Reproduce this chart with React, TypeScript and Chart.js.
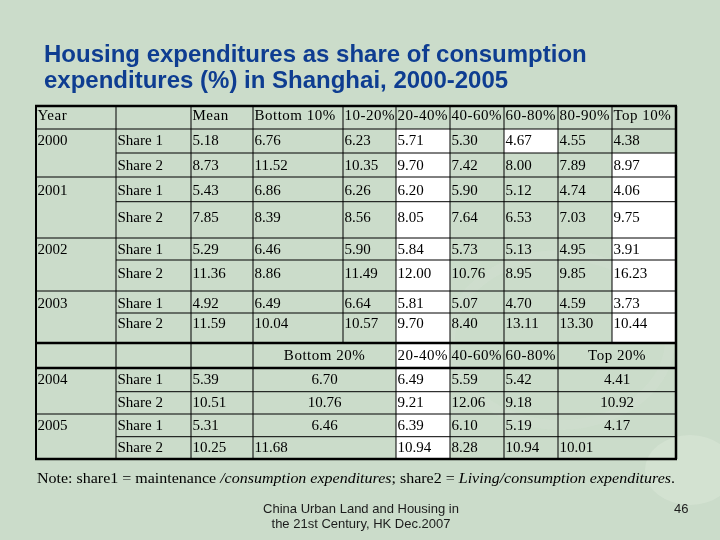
import React, { useEffect, useRef } from "react";
import { Chart, registerables } from "chart.js";

Chart.register(...registerables);

// ---------- text content ----------
const titleLines = [
  "Housing expenditures as share of consumption",
  "expenditures (%) in Shanghai, 2000-2005",
];
const headerTop = ["Year", "", "Mean", "Bottom 10%", "10-20%", "20-40%", "40-60%", "60-80%", "80-90%", "Top 10%"];
const headerBottom = ["Bottom 20%", "20-40%", "40-60%", "60-80%", "Top 20%"];
const yearsTop = ["2000", "2001", "2002", "2003"];
const yearsBottom = ["2004", "2005"];
const shareLabels = ["Share 1", "Share 2"];

// ---------- values, 2000-2003 (Share 1, Share 2 per year) ----------
const meanTop = [5.18, 8.73, 5.43, 7.85, 5.29, 11.36, 4.92, 11.59];
const bottom10 = [6.76, 11.52, 6.86, 8.39, 6.46, 8.86, 6.49, 10.04];
const p10to20 = [6.23, 10.35, 6.26, 8.56, 5.9, 11.49, 6.64, 10.57];
const p20to40 = [5.71, 9.7, 6.2, 8.05, 5.84, 12.0, 5.81, 9.7];
const p40to60 = [5.3, 7.42, 5.9, 7.64, 5.73, 10.76, 5.07, 8.4];
const p60to80 = [4.67, 8.0, 5.12, 6.53, 5.13, 8.95, 4.7, 13.11];
const p80to90 = [4.55, 7.89, 4.74, 7.03, 4.95, 9.85, 4.59, 13.3];
const top10 = [4.38, 8.97, 4.06, 9.75, 3.91, 16.23, 3.73, 10.44];

// ---------- values, 2004-2005 ----------
const meanBottom = [5.39, 10.51, 5.31, 10.25];
const bottom20 = [6.7, 10.76, 6.46, 11.68];
const q20to40 = [6.49, 9.21, 6.39, 10.94];
const q40to60 = [5.59, 12.06, 6.1, 8.28];
const q60to80 = [5.42, 9.18, 5.19, 10.94];
const top20 = [4.41, 10.92, 4.17, 10.01];

const noteParts: [string, boolean][] = [
  ["Note: share1 = maintenance ", false],
  ["/consumption expenditures", true],
  ["; share2 = ", false],
  ["Living/consumption expenditures", true],
  [".", false],
];
const footerLines = ["China Urban Land and Housing in", "the 21st Century, HK Dec.2007"];
const pageNumber = "46";

// ---------- layout (pixel units of the 720x540 scale) ----------
const COLS = [36, 116, 191, 253, 343, 396, 450, 504, 558, 612, 676];
const TOP_ROWS = [106, 129, 153, 177, 201.7, 238, 260, 291, 313, 343];
const TOP_BASE = [120, 145, 170, 195, 221.5, 254, 277.5, 308, 328];
const BOT_ROWS = [343, 368, 391.7, 414, 436.7, 459];
const BOT_BASE = [359.5, 383.5, 406.5, 430, 451.5];
const PAD = 1.5;

const BG = "#cbdcca";
const TITLE_COLOR = "#0e3d91";
const SERIF = "'Liberation Serif', 'Times New Roman', serif";
const SANS = "'Liberation Sans', Arial, sans-serif";

type Cell = { x: number; y: number; text: string; align: "left" | "center"; header?: boolean };

function fmt(v: number) {
  return v.toFixed(2);
}

function buildCells(): Cell[] {
  const cells: Cell[] = [];
  const left = (c: number, r: number, t: string, base: number[], header = false) =>
    cells.push({ x: COLS[c] + PAD, y: base[r], text: t, align: "left", header });
  const center = (c0: number, c1: number, r: number, t: string, base: number[], header = false) =>
    cells.push({ x: (COLS[c0] + COLS[c1]) / 2, y: base[r], text: t, align: "center", header });

  headerTop.forEach((h, i) => h && left(i, 0, h, TOP_BASE, true));
  const topCols = [meanTop, bottom10, p10to20, p20to40, p40to60, p60to80, p80to90, top10];
  for (let r = 0; r < 8; r++) {
    if (r % 2 === 0) left(0, r + 1, yearsTop[r / 2], TOP_BASE);
    left(1, r + 1, shareLabels[r % 2], TOP_BASE);
    topCols.forEach((arr, j) => left(j + 2, r + 1, fmt(arr[r]), TOP_BASE));
  }

  center(3, 5, 0, headerBottom[0], BOT_BASE, true);
  left(5, 0, headerBottom[1], BOT_BASE, true);
  left(6, 0, headerBottom[2], BOT_BASE, true);
  left(7, 0, headerBottom[3], BOT_BASE, true);
  center(8, 10, 0, headerBottom[4], BOT_BASE, true);
  for (let r = 0; r < 4; r++) {
    const rr = r + 1;
    if (r % 2 === 0) left(0, rr, yearsBottom[r / 2], BOT_BASE);
    left(1, rr, shareLabels[r % 2], BOT_BASE);
    left(2, rr, fmt(meanBottom[r]), BOT_BASE);
    if (r < 3) center(3, 5, rr, fmt(bottom20[r]), BOT_BASE);
    else left(3, rr, fmt(bottom20[r]), BOT_BASE);
    left(5, rr, fmt(q20to40[r]), BOT_BASE);
    left(6, rr, fmt(q40to60[r]), BOT_BASE);
    left(7, rr, fmt(q60to80[r]), BOT_BASE);
    if (r < 3) center(8, 10, rr, fmt(top20[r]), BOT_BASE);
    else left(8, rr, fmt(top20[r]), BOT_BASE);
  }
  return cells;
}

const tablePlugin = {
  id: "tablePlugin",
  beforeDraw(chart: any) {
    const ctx: CanvasRenderingContext2D = chart.ctx;
    const xs = chart.scales.x;
    const ys = chart.scales.y;
    const X = (v: number) => xs.getPixelForValue(v);
    const Y = (v: number) => ys.getPixelForValue(v);

    ctx.save();
    // background
    ctx.fillStyle = BG;
    ctx.fillRect(X(0), Y(0), X(720) - X(0), Y(540) - Y(0));

    // faint ornament
    ctx.globalAlpha = 0.08;
    ctx.strokeStyle = "#eef5ec";
    ctx.lineWidth = 10;
    ctx.beginPath();
    ctx.ellipse(X(560), Y(340), 110, 85, 0, 0, Math.PI * 2);
    ctx.stroke();
    ctx.globalAlpha = 0.2;
    ctx.fillStyle = "#f4f8f2";
    ctx.beginPath();
    ctx.ellipse(X(690), Y(470), 45, 35, 0, 0, Math.PI * 2);
    ctx.fill();
    ctx.globalAlpha = 1;

    // title
    ctx.fillStyle = TITLE_COLOR;
    ctx.font = `bold 24px ${SANS}`;
    ctx.textAlign = "left";
    ctx.textBaseline = "alphabetic";
    ctx.fillText(titleLines[0], X(44), Y(61.5));
    ctx.fillText(titleLines[1], X(44), Y(88));

    // white cells
    ctx.fillStyle = "#ffffff";
    const fillCell = (c0: number, c1: number, y0: number, y1: number) =>
      ctx.fillRect(X(COLS[c0]), Y(y0), X(COLS[c1]) - X(COLS[c0]), Y(y1) - Y(y0));
    fillCell(5, 6, TOP_ROWS[1], BOT_ROWS[5]);
    fillCell(7, 8, TOP_ROWS[1], TOP_ROWS[2]);
    fillCell(9, 10, TOP_ROWS[2], TOP_ROWS[9]);

    // grid lines
    ctx.strokeStyle = "#000";
    const hline = (y: number, x0: number, x1: number, w: number) => {
      ctx.lineWidth = w;
      ctx.beginPath();
      ctx.moveTo(X(x0), Y(y));
      ctx.lineTo(X(x1), Y(y));
      ctx.stroke();
    };
    const vline = (x: number, y0: number, y1: number, w: number) => {
      ctx.lineWidth = w;
      ctx.beginPath();
      ctx.moveTo(X(x), Y(y0));
      ctx.lineTo(X(x), Y(y1));
      ctx.stroke();
    };
    const L = COLS[0];
    const R = COLS[10];
    hline(TOP_ROWS[0], L - 1, R + 1, 2.5);
    hline(TOP_ROWS[1], L, R, 1);
    [2, 4, 6, 8].forEach((i) => hline(TOP_ROWS[i], COLS[1], R, 1));
    [3, 5, 7].forEach((i) => hline(TOP_ROWS[i], L, R, 1));
    hline(TOP_ROWS[9], L, R, 2.5);
    hline(BOT_ROWS[1], L, R, 2.5);
    [2, 4].forEach((i) => hline(BOT_ROWS[i], COLS[1], R, 1));
    hline(BOT_ROWS[3], L, R, 1);
    hline(BOT_ROWS[5], L - 1, R + 1, 2.5);
    vline(L, TOP_ROWS[0], BOT_ROWS[5], 2);
    vline(R, TOP_ROWS[0], BOT_ROWS[5], 2.5);
    for (let c = 1; c < 10; c++) vline(COLS[c], TOP_ROWS[0], TOP_ROWS[9], 1);
    [1, 2, 3, 5, 6, 7, 8].forEach((c) => vline(COLS[c], BOT_ROWS[0], BOT_ROWS[5], 1));

    // note line
    let total = 0;
    noteParts.forEach(([t, it]) => {
      ctx.font = `${it ? "italic " : ""}15px ${SERIF}`;
      total += ctx.measureText(t).width;
    });
    const target = X(675) - X(37);
    const sx = target / total;
    ctx.save();
    ctx.translate(X(37), Y(483));
    ctx.scale(sx, 1);
    ctx.fillStyle = "#000";
    let cx = 0;
    noteParts.forEach(([t, it]) => {
      ctx.font = `${it ? "italic " : ""}15px ${SERIF}`;
      ctx.fillText(t, cx, 0);
      cx += ctx.measureText(t).width;
    });
    ctx.restore();

    // footer
    ctx.fillStyle = "#1c1c1c";
    ctx.font = `13px ${SANS}`;
    ctx.textAlign = "center";
    ctx.fillText(footerLines[0], X(361), Y(512.5));
    ctx.fillText(footerLines[1], X(361), Y(528));
    ctx.textAlign = "left";
    ctx.fillText(pageNumber, X(674), Y(512.5));
    ctx.restore();
  },
  afterDatasetsDraw(chart: any) {
    const ctx: CanvasRenderingContext2D = chart.ctx;
    const meta = chart.getDatasetMeta(0);
    const raw = chart.data.datasets[0].data as Cell[];
    ctx.save();
    ctx.fillStyle = "#000";
    ctx.font = `15px ${SERIF}`;
    ctx.textBaseline = "alphabetic";
    meta.data.forEach((el: any, i: number) => {
      const cell = raw[i];
      ctx.textAlign = cell.align;
      (ctx as any).letterSpacing = cell.header ? "0.5px" : "0px";
      ctx.fillText(cell.text, el.x, el.y);
    });
    (ctx as any).letterSpacing = "0px";
    ctx.restore();
  },
};

export default function App() {
  const ref = useRef<HTMLCanvasElement | null>(null);
  useEffect(() => {
    if (!ref.current) return;
    const cells = buildCells();
    const chart = new Chart(ref.current, {
      type: "scatter",
      data: {
        datasets: [
          {
            data: cells as any,
            pointRadius: 0,
            pointHoverRadius: 0,
            parsing: false,
          } as any,
        ],
      },
      options: {
        animation: false,
        responsive: false,
        events: [],
        layout: { padding: 0 },
        plugins: {
          legend: { display: false },
          tooltip: { enabled: false },
          title: { display: false },
        },
        scales: {
          x: { type: "linear", min: 0, max: 720, display: false },
          y: { type: "linear", min: 0, max: 540, reverse: true, display: false },
        },
      },
      plugins: [tablePlugin],
    });
    return () => chart.destroy();
  }, []);
  return (
    <div style={{ position: "fixed", left: 0, top: 0, width: 720, height: 540 }}>
      <canvas ref={ref} width={720} height={540} style={{ display: "block" }} />
    </div>
  );
}
